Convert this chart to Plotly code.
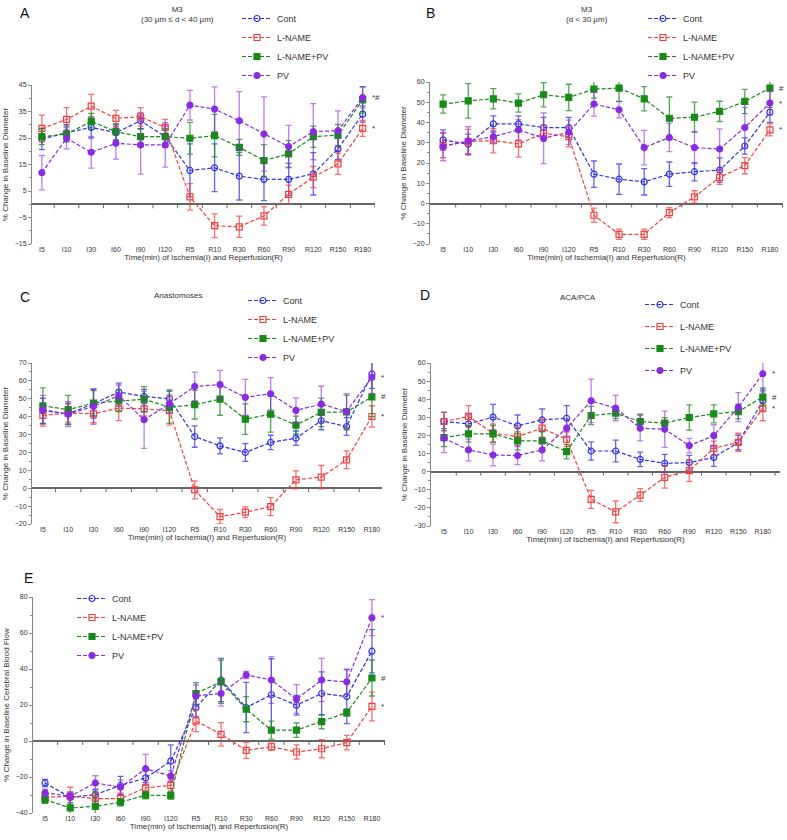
import plotly.graph_objects as go

W, H = 787, 840

times = ["I5", "I10", "I30", "I60", "I90", "I120", "R5", "R10", "R30", "R60", "R90", "R120", "R150", "R180"]
names = ["Cont", "L-NAME", "L-NAME+PV", "PV"]

# ---------------- Panel A: M3 (30 um <= d < 40 um) ----------------
a_cont = [24.6, 27, 29, 27, 31.5, 25.5, 12.75, 13.75, 10.6, 9.4, 9.4, 11.5, 20.9, 34]
a_cont_err = [4, 3, 4, 3, 3, 4, 10, 9, 9, 8, 6, 8, 4, 3]
a_lname = [28.6, 32, 37, 32.4, 33, 29, 2.75, -8.1, -8.5, -4.4, 3.75, 10.25, 15.25, 28.6]
a_lname_err = [5, 4.5, 4.5, 3, 3.5, 3, 5, 4.5, 4, 3.5, 3.5, 4, 4, 3]
a_lpv = [25.5, 26.5, 31.25, 27.4, 25.5, 25.5, 24.9, 25.9, 21.5, 16.5, 19, 25.5, 26.1, 39.4]
a_lpv_err = [3, 3, 3, 3, 3, 3, 6, 8, 3, 6, 5, 4, 4, 5]
a_pv = [11.9, 24.9, 19.6, 23, 22.4, 22.4, 37.4, 35.9, 31.5, 26.5, 21.75, 27.4, 27.75, 40.25]
a_pv_err = [6.5, 4, 6, 6, 11, 8.4, 5.6, 8.4, 11, 14, 8, 10.6, 7.5, 4]

# ---------------- Panel B: M3 (d < 30 um) ----------------
b_cont = [31.4, 29.3, 39.3, 39.3, 37.5, 37.5, 14.5, 12, 10.7, 14.5, 15.7, 16.5, 28.4, 45.1]
b_cont_err = [5, 5, 4, 4, 5, 5, 6.5, 7.5, 6.5, 6, 4.5, 6, 4, 5]
b_lname = [28.6, 30.6, 31, 29.4, 34.7, 33, -5.8, -15.2, -15.2, -4.5, 3.3, 12.9, 18.7, 36.4]
b_lname_err = [6, 6, 6, 6.5, 4, 5, 3.5, 2.5, 2.5, 2.5, 3, 3.5, 4, 3]
b_lpv = [49.1, 50.7, 51.7, 49.6, 53.7, 52.4, 56.5, 57, 51.7, 42.1, 42.6, 45.5, 50.4, 57]
b_lpv_err = [4.5, 8.5, 5, 4.5, 6, 6.5, 4.5, 6.5, 6, 10.5, 7.5, 5, 6, 9.5]
b_pv = [28.1, 30.9, 33, 36.4, 32.2, 35.2, 49.1, 46.3, 27.6, 32.6, 27.6, 26.9, 37.5, 49.6]
b_pv_err = [7, 7, 3, 5, 12.5, 6, 6, 4, 8.5, 7, 8, 10, 10, 6]

# ---------------- Panel C: Anastomoses ----------------
c_cont = [43.3, 41.6, 47.2, 53.8, 51.3, 50, 28.9, 23.7, 20, 25.6, 28, 37.7, 34.5, 63.8]
c_cont_err = [7, 6, 8, 5, 4, 5, 6, 4.5, 5, 4, 4, 5, 5, 8]
c_lname = [40.7, 42, 41.6, 44.8, 44.4, 43.3, -0.9, -15.9, -13.4, -10.3, 4.7, 6.2, 15.9, 40.1]
c_lname_err = [6, 5, 5, 7, 4, 8, 5, 4, 3, 5, 5, 6.5, 5, 6]
c_lpv = [46.1, 43.9, 47.6, 48.9, 49.8, 45.2, 46.7, 49.8, 38.6, 41.4, 35.3, 42.4, 42.7, 51]
c_lpv_err = [10, 8, 7, 6, 7, 9, 8, 9, 8.5, 10, 5, 8, 10, 11]
c_pv = [43.9, 41.4, 45.7, 51.7, 38.3, 47.2, 56.9, 57.9, 50.8, 52.8, 43.5, 47, 42.9, 62]
c_pv_err = [8, 7, 10, 6, 16, 5, 8, 8, 10, 9, 7, 10, 9, 9]

# ---------------- Panel D: ACA/PCA ----------------
d_cont = [27.7, 26.4, 30.1, 25.3, 28.6, 29.5, 11.4, 11.4, 6.8, 4.6, 5, 7.9, 16.1, 39.1]
d_cont_err = [5, 5, 7, 6, 6, 7, 5, 6, 4, 5, 4, 5, 4, 6]
d_lname = [27.7, 30.5, 21.2, 19.4, 24, 17.9, -15.3, -22.2, -12.9, -3.1, 0.6, 12.9, 16.2, 35.1]
d_lname_err = [5, 6, 5, 5, 5, 4, 5, 6, 3.5, 6, 6, 4, 5, 7]
d_lpv = [18.8, 20.9, 20.9, 17, 17, 11.1, 31, 32.3, 27.7, 26.8, 29.9, 31.9, 33.2, 41.2]
d_lpv_err = [5, 4.5, 4.5, 5, 5, 4, 5, 3, 4, 3, 7, 5, 4, 5]
d_pv = [18.5, 12, 9.2, 8.9, 12, 24, 39.1, 35.1, 24, 23.4, 14.4, 19.9, 35.6, 54.1]
d_pv_err = [8, 6, 6, 5, 6, 5, 12, 7, 7, 10, 4, 6, 8, 10]

# ---------------- Panel E: Cerebral blood flow ----------------
e_cont = [-23.3, -31.3, -29.8, -24.7, -20.5, -11.2, 18.6, 33.9, 18.6, 25.7, 19.9, 26.4, 24.7, 49.9]
e_cont_err = [2, 3, 3, 5, 4, 9, 5, 12, 14, 20, 5.5, 12, 15, 12]
e_lname = [-31.3, -30.7, -32, -32, -26, -24.7, 11.2, 3.7, -5.2, -3.2, -6.1, -4.3, -0.9, 19.2]
e_lname_err = [3, 5, 3, 3, 3, 3, 6, 6.5, 4.5, 2, 4, 5, 4, 8]
e_lpv = [-32.6, -37.2, -36.3, -34, -30.1, -30.3, 26.4, 32.9, 17.7, 6, 6, 10.8, 15.8, 35]
e_lpv_err = [2, 6, 8, 2, 2, 2, 6, 12, 7, 5, 4, 4, 2, 10]
e_pv = [-28.8, -30.7, -23.3, -25.7, -15.4, -19.5, 25.1, 26.4, 36.7, 33.9, 23.3, 33.9, 32.9, 68.5]
e_pv_err = [2, 2, 4, 4, 8, 3, 6, 7, 2, 13, 8, 12, 7, 10]

x_title = "Time(min) of Ischemia(I) and Reperfusion(R)"
y_title_d = "% Change in Baseline Diameter"
y_title_f = "% Change in Baseline Cerebral Blood Flow"

colors = ["#3030e8", "#f04040", "#188a18", "#8a2be2"]
err_colors = ["rgba(48,48,232,0.75)", "rgba(240,64,64,0.75)", "rgba(24,138,24,0.75)", "rgba(138,43,226,0.6)"]
symbols = ["circle-open", "square-open", "square", "circle"]

FONT = "Liberation Sans, Arial, sans-serif"


def xd(a, b):
    return [a / W, b / W]


def yd(top, bottom):
    return [1 - bottom / H, 1 - top / H]


panels = [
    dict(series=[(a_cont, a_cont_err), (a_lname, a_lname_err), (a_lpv, a_lpv_err), (a_pv, a_pv_err)],
         xpx=(32, 375), xr=[-0.4, 13.5], ypx=(85, 244), yr=[-15, 45],
         yticks=[-15, -5, 5, 15, 25, 35, 45], minor=5, ytitle=y_title_d,
         legpos=(237, 4), leggap=0, letter=("A", 25, 13),
         title=("M3<br>(30 μm ≤ d &lt; 40 μm)", 177, 14),
         sig=[("*#", 3), ("*", 1)]),
    dict(series=[(b_cont, b_cont_err), (b_lname, b_lname_err), (b_lpv, b_lpv_err), (b_pv, b_pv_err)],
         xpx=(430, 783), xr=[-0.52, 13.52], ypx=(82, 244), yr=[-20, 60],
         yticks=list(range(-20, 61, 10)), minor=5, ytitle=y_title_d,
         legpos=(643, 4), leggap=0, letter=("B", 430, 13),
         title=("M3<br>(d &lt; 30 μm)", 587, 14),
         sig=[("#", 2), ("*", 3), ("*", 1)]),
    dict(series=[(c_cont, c_cont_err), (c_lname, c_lname_err), (c_lpv, c_lpv_err), (c_pv, c_pv_err)],
         xpx=(32, 382), xr=[-0.43, 13.4], ypx=(363, 524), yr=[-20, 70],
         yticks=list(range(-20, 71, 10)), minor=5, ytitle=y_title_d,
         legpos=(243, 286), leggap=0, letter=("C", 25, 297),
         title=("Anastomoses", 178, 295),
         sig=[("*", 3), ("#", 2), ("*", 1)]),
    dict(series=[(d_cont, d_cont_err), (d_lname, d_lname_err), (d_lpv, d_lpv_err), (d_pv, d_pv_err)],
         xpx=(431, 780), xr=[-0.53, 13.7], ypx=(363, 526), yr=[-30, 60],
         yticks=list(range(-30, 61, 10)), minor=5, ytitle=y_title_d,
         legpos=(640, 290), leggap=3, letter=("D", 425, 295),
         title=("ACA/PCA", 578, 297),
         sig=[("*", 3), ("#", 2), ("*", 1)]),
    dict(series=[(e_cont, e_cont_err), (e_lname, e_lname_err), (e_lpv, e_lpv_err), (e_pv, e_pv_err)],
         xpx=(33, 385), xr=[-0.48, 13.52], ypx=(597, 813), yr=[-40, 80],
         yticks=list(range(-40, 81, 20)), minor=10, ytitle=y_title_f,
         legpos=(72, 584), leggap=0, letter=("E", 28, 578),
         title=None,
         sig=[("*", 3), ("#", 2), ("*", 1)]),
]

fig = go.Figure()
layout = dict(width=W, height=H, margin=dict(l=0, r=0, t=0, b=0, autoexpand=False),
              paper_bgcolor="white", plot_bgcolor="white",
              font=dict(family=FONT, size=8, color="#333"), showlegend=True)
annotations = []
shapes = []

for i, p in enumerate(panels, start=1):
    xa = "x" if i == 1 else f"x{i}"
    ya = "y" if i == 1 else f"y{i}"
    xkey = "xaxis" if i == 1 else f"xaxis{i}"
    ykey = "yaxis" if i == 1 else f"yaxis{i}"
    lkey = "legend" if i == 1 else f"legend{i}"

    for k, (vals, errs) in enumerate(p["series"]):
        fig.add_trace(go.Scatter(
            x=times, y=vals, xaxis=xa, yaxis=ya, name=names[k], legend=lkey,
            legendgroup=f"{lkey}_{k}",
            mode="lines+markers", cliponaxis=False,
            line=dict(color=colors[k], width=1.2, dash="4px,2px"),
            marker=dict(symbol=symbols[k], size=6, color=colors[k],
                        line=dict(color=colors[k], width=1.2)),
            error_y=dict(type="data", array=errs, visible=True, color=err_colors[k],
                         thickness=1.3, width=3),
        ))

    layout[xkey] = dict(domain=xd(*p["xpx"]), anchor=ya, type="category", automargin=False,
                        categoryorder="array", categoryarray=times, range=p["xr"],
                        showline=False, ticks="", showgrid=False, zeroline=False,
                        tickfont=dict(size=7, color="#333"),
                        title=dict(text=x_title, font=dict(size=8, color="#333"), standoff=2))
    layout[ykey] = dict(domain=yd(*p["ypx"]), anchor=xa, range=p["yr"], automargin=False,
                        tickvals=p["yticks"], showline=True, linecolor="#888", linewidth=1,
                        ticks="outside", ticklen=3, tickcolor="#888",
                        minor=dict(ticks="outside", ticklen=2, dtick=p["minor"], tickcolor="#888"),
                        showgrid=False, zeroline=True, zerolinecolor="#666", zerolinewidth=1.5,
                        tickfont=dict(size=7, color="#333"),
                        title=dict(text=p["ytitle"], font=dict(size=8, color="#333"), standoff=4))
    lx, ly = p["legpos"]
    layout[lkey] = dict(x=lx / W, y=1 - ly / H, xanchor="left", yanchor="top",
                        bgcolor="rgba(0,0,0,0)", font=dict(size=9, color="#333"),
                        itemwidth=30, tracegroupgap=p["leggap"],
                        traceorder="grouped" if p["leggap"] else "normal")

    # small tick marks on the zero line between categories
    for k in range(len(times)):
        shapes.append(dict(type="line", xref=xa, yref=ya, x0=k + 0.5, x1=k + 0.5,
                           ysizemode="pixel", yanchor=0, y0=0, y1=-4,
                           line=dict(color="#666", width=1)))

    letter, lxp, lyp = p["letter"]
    annotations.append(dict(text=letter, x=lxp / W, y=1 - lyp / H, xref="paper", yref="paper",
                            showarrow=False, xanchor="center", yanchor="middle",
                            font=dict(size=14, color="#111")))
    if p["title"]:
        t, tx, ty = p["title"]
        annotations.append(dict(text=t, x=tx / W, y=1 - ty / H, xref="paper", yref="paper",
                                showarrow=False, xanchor="center", yanchor="middle",
                                font=dict(size=8, color="#333")))
    for txt, sidx in p["sig"]:
        annotations.append(dict(text=txt, x=times[-1], y=p["series"][sidx][0][-1], xref=xa, yref=ya,
                                showarrow=False, xanchor="left", yanchor="middle", xshift=7,
                                font=dict(size=8, color="#333")))

layout["annotations"] = annotations
layout["shapes"] = shapes
fig.update_layout(**layout)
fig.write_html("out.html", config={"displayModeBar": False},
               post_script="document.body.style.margin='0';document.body.style.overflow='hidden';")
